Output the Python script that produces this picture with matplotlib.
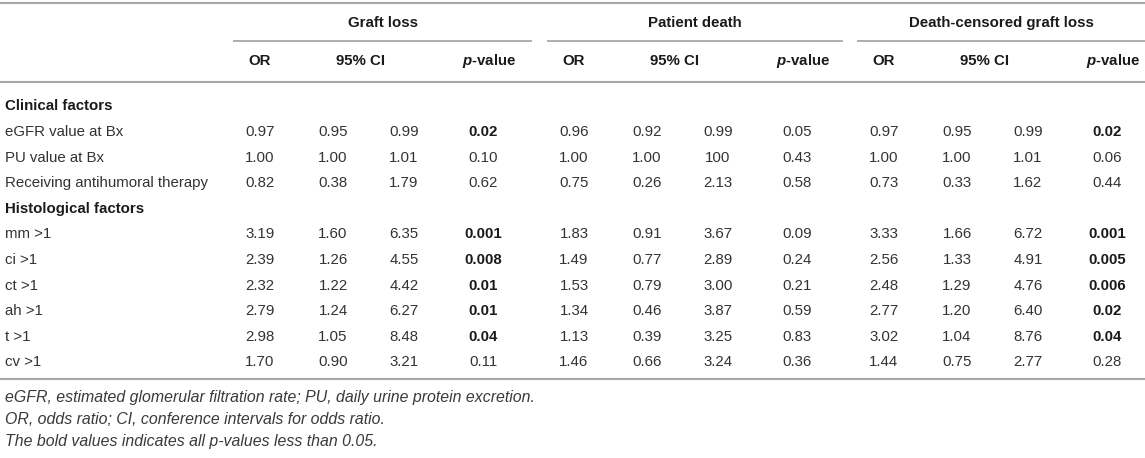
import matplotlib
matplotlib.use("Agg")
import matplotlib.pyplot as plt

# ---------------- data ----------------
groups = ["Graft loss", "Patient death", "Death-censored graft loss"]
col_headers = ["OR", "95% CI", "p-value"]

row_labels = ["Clinical factors", "eGFR value at Bx", "PU value at Bx",
              "Receiving antihumoral therapy", "Histological factors",
              "mm >1", "ci >1", "ct >1", "ah >1", "t >1", "cv >1"]
section_rows = ["Clinical factors", "Histological factors"]

graft_or = ["0.97", "1.00", "0.82", "3.19", "2.39", "2.32", "2.79", "2.98", "1.70"]
graft_lo = ["0.95", "1.00", "0.38", "1.60", "1.26", "1.22", "1.24", "1.05", "0.90"]
graft_hi = ["0.99", "1.01", "1.79", "6.35", "4.55", "4.42", "6.27", "8.48", "3.21"]
graft_p = ["0.02", "0.10", "0.62", "0.001", "0.008", "0.01", "0.01", "0.04", "0.11"]

death_or = ["0.96", "1.00", "0.75", "1.83", "1.49", "1.53", "1.34", "1.13", "1.46"]
death_lo = ["0.92", "1.00", "0.26", "0.91", "0.77", "0.79", "0.46", "0.39", "0.66"]
death_hi = ["0.99", "100", "2.13", "3.67", "2.89", "3.00", "3.87", "3.25", "3.24"]
death_p = ["0.05", "0.43", "0.58", "0.09", "0.24", "0.21", "0.59", "0.83", "0.36"]

dc_or = ["0.97", "1.00", "0.73", "3.33", "2.56", "2.48", "2.77", "3.02", "1.44"]
dc_lo = ["0.95", "1.00", "0.33", "1.66", "1.33", "1.29", "1.20", "1.04", "0.75"]
dc_hi = ["0.99", "1.01", "1.62", "6.72", "4.91", "4.76", "6.40", "8.76", "2.77"]
dc_p = ["0.02", "0.06", "0.44", "0.001", "0.005", "0.006", "0.02", "0.04", "0.28"]

footnotes = [
    "eGFR, estimated glomerular filtration rate; PU, daily urine protein excretion.",
    "OR, odds ratio; CI, conference intervals for odds ratio.",
    "The bold values indicates all p-values less than 0.05.",
]

series = [
    (graft_or, graft_lo, graft_hi, graft_p),
    (death_or, death_lo, death_hi, death_p),
    (dc_or, dc_lo, dc_hi, dc_p),
]

# ---------------- layout ----------------
W, H = 1145, 458
plt.rcParams["font.family"] = ["Liberation Sans", "DejaVu Sans"]
plt.rcParams["mathtext.fontset"] = "custom"
plt.rcParams["mathtext.rm"] = "Liberation Sans"
plt.rcParams["mathtext.it"] = "Liberation Sans:italic"
plt.rcParams["mathtext.bf"] = "Liberation Sans:bold"
plt.rcParams["mathtext.bfit"] = "Liberation Sans:italic:bold"

fig = plt.figure(figsize=(W / 100, H / 100), dpi=100)
ax = fig.add_axes([0, 0, 1, 1])
ax.set_xlim(0, W)
ax.set_ylim(H, 0)
ax.axis("off")

FS = 10.8
FS_NOTE = 11.4
line_col = "#a8a8a8"
txt_col = "#333333"
hdr_col = "#1a1a1a"
note_col = "#3a3a3a"

# baseline offset = half of cap height (Arial cap height ~0.716 em), in pixels
base_off = 0.5 * 0.716 * FS * 100 / 72
base_off_note = 0.5 * 0.716 * FS_NOTE * 100 / 72

group_start = [233, 547, 857]
group_end = [532, 843, W]
off_or, off_lo, off_hi, off_p = 27, 100, 171, 250
off_ci_hdr, off_p_hdr = 127, 256

y_top = 3
y_group = 22
y_gline = 41
y_colhdr = 60
y_hline = 82
y_row0 = 105
dy = 25.6
y_bline = y_row0 + dy * (len(row_labels) - 1) + 18
y_note0 = y_bline + 17
dy_note = 22


def put(x, y, s, ha="center", fs=FS, off=None, **kw):
    if off is None:
        off = base_off
    ax.text(x, y + off, s, ha=ha, va="baseline", fontsize=fs, **kw)


for yl in (y_top, y_hline, y_bline):
    ax.plot([0, W], [yl, yl], color=line_col, lw=1.5, solid_capstyle="butt")

for g, x0, x1 in zip(groups, group_start, group_end):
    ax.plot([x0, x1], [y_gline, y_gline], color=line_col, lw=1.3, solid_capstyle="butt")
    put((x0 + x1) / 2, y_group, g, fontweight="bold", color=hdr_col)
    put(x0 + off_or, y_colhdr, col_headers[0], fontweight="bold", color=hdr_col)
    put(x0 + off_ci_hdr, y_colhdr, col_headers[1], fontweight="bold", color=hdr_col)
    put(x0 + off_p_hdr, y_colhdr, r"$\mathbfit{p}$" + col_headers[2][1:],
        fontweight="bold", color=hdr_col)

data_i = 0
for i, lab in enumerate(row_labels):
    y = y_row0 + i * dy
    if lab in section_rows:
        put(5, y, lab, ha="left", fontweight="bold", color=hdr_col)
        continue
    put(5, y, lab, ha="left", color=txt_col)
    for x0, (o, lo, hi, p) in zip(group_start, series):
        put(x0 + off_or, y, o[data_i], color=txt_col)
        put(x0 + off_lo, y, lo[data_i], color=txt_col)
        put(x0 + off_hi, y, hi[data_i], color=txt_col)
        bold = float(p[data_i]) < 0.05
        put(x0 + off_p, y, p[data_i],
            fontweight="bold" if bold else "normal",
            color=hdr_col if bold else txt_col)
    data_i += 1

for k, note in enumerate(footnotes):
    put(5, y_note0 + k * dy_note, note, ha="left", fs=FS_NOTE, off=base_off_note,
        style="italic", color=note_col)

fig.savefig("out.png", dpi=100)
